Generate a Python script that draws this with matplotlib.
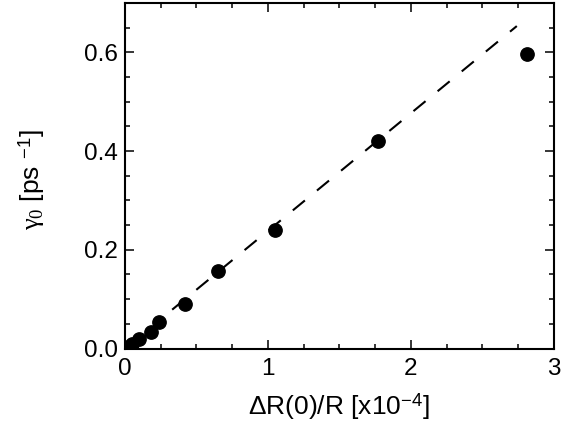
import matplotlib
matplotlib.use('Agg')
import matplotlib.pyplot as plt
from matplotlib.ticker import MultipleLocator

plt.rcParams['font.family'] = ['Liberation Sans', 'DejaVu Sans']
plt.rcParams['mathtext.fontset'] = 'custom'
plt.rcParams['mathtext.rm'] = 'Liberation Serif'
plt.rcParams['mathtext.it'] = 'Liberation Serif'
plt.rcParams['mathtext.sf'] = 'Liberation Sans'

# data
dR_over_R = [0.02, 0.05, 0.10, 0.18, 0.235, 0.42, 0.65, 1.05, 1.77, 2.81]   # x10^-4
gamma0 = [0.004, 0.010, 0.019, 0.033, 0.054, 0.091, 0.156, 0.240, 0.421, 0.597]  # ps^-1

# linear fit line (dashed)
fit_slope = 0.2384
fit_x = [0.33, 2.74]
fit_y = [fit_slope * v for v in fit_x]

fig = plt.figure(figsize=(5.63, 4.25), dpi=100)
ax = fig.add_axes([0.222, 0.18, 0.762, 0.813])

ax.plot(fit_x, fit_y, color='black', linewidth=1.5, linestyle=(0, (7.5, 7.5)))
ax.plot(dR_over_R, gamma0, 'o', color='black', markersize=9.6)

ax.set_xlim(0, 3)
ax.set_ylim(0, 0.7)
ax.xaxis.set_major_locator(MultipleLocator(1))
ax.xaxis.set_minor_locator(MultipleLocator(0.25))
ax.yaxis.set_major_locator(MultipleLocator(0.2))
ax.yaxis.set_minor_locator(MultipleLocator(0.05))
ax.yaxis.set_major_formatter(plt.FormatStrFormatter('%.1f'))

ax.tick_params(which='both', direction='in', top=True, right=True, width=1.1)
ax.tick_params(which='major', length=6.5, labelsize=17.5)
ax.tick_params(which='minor', length=3.6)
ax.tick_params(axis='x', which='major', pad=7)
ax.tick_params(axis='y', which='major', pad=5)
for s in ax.spines.values():
    s.set_linewidth(1.5)

ax.set_xlabel(r'ΔR(0)/R [x10$^{\mathsf{-4}}$]', fontsize=19)
ax.set_ylabel(r'$\gamma_0$ [ps $^{\mathsf{-1}}$]', fontsize=19)
ax.xaxis.set_label_coords(0.499, -0.125)
ax.yaxis.set_label_coords(-0.182, 0.488)

fig.savefig('out.png', dpi=100)
